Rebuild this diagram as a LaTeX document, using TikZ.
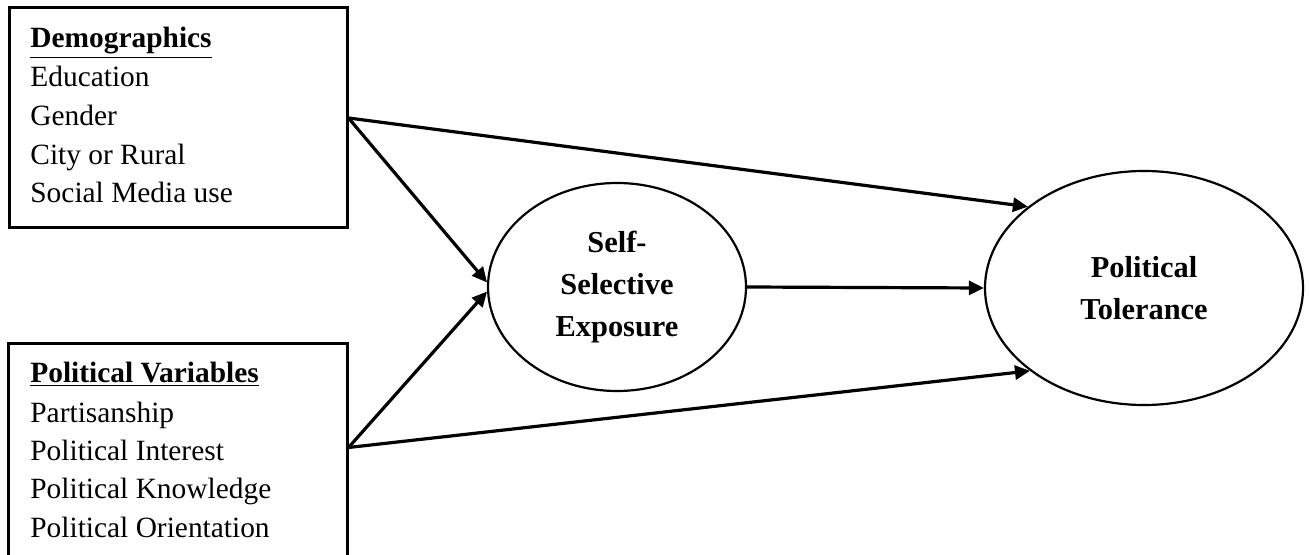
\documentclass[tikz,border=0pt]{standalone}
\usepackage{fontspec}
\setmainfont{Liberation Serif}
\usetikzlibrary{shapes.geometric,arrows.meta,calc}
\begin{document}
\begin{tikzpicture}[x=0.5pt,y=-0.5pt,
  boxstyle/.style={draw,line width=1.5pt,rectangle,inner sep=0pt},
  listtext/.style={anchor=base west,inner sep=0pt,font=\fontsize{14.7}{19.5}\selectfont},
  ellstyle/.style={draw,line width=1.1pt,ellipse,inner sep=0pt,align=center,font=\fontsize{15.2}{21}\selectfont\bfseries},
  conn/.style={line width=1.6pt,-{Triangle[length=7.5pt,width=7pt]}}]
\useasboundingbox (0,0) rectangle (1309,555);
\clip (0,0) rectangle (1309,555);
% boxes
\node[boxstyle,minimum width=169pt,minimum height=110pt] (b1) at (178,118) {};
\node[boxstyle,minimum width=169.5pt,minimum height=115pt] (b2) at (177.5,458) {};
\coordinate (b2out) at ($(b2.north east)+(0,106)$);
% list texts
\node[listtext] (d0) at (30,48) {\textbf{\underline{Demographics}}};
\node[listtext] (d1) at (30,87) {Education};
\node[listtext] (d2) at (30,126) {Gender};
\node[listtext] (d3) at (30,165) {City or Rural};
\node[listtext] (d4) at (30,203) {Social Media use};
\node[listtext] (p0) at (30,382) {\textbf{\underline{Political Variables}}};
\node[listtext] (p1) at (30,422) {Partisanship};
\node[listtext] (p2) at (30,460) {Political Interest};
\node[listtext] (p3) at (30,498) {Political Knowledge};
\node[listtext] (p4) at (30,537) {Political Orientation};
% ellipses
\node[ellstyle,minimum width=129pt,minimum height=104pt] (e1) at (617,287) {Self-\\Selective\\Exposure};
\node[ellstyle,minimum width=159pt,minimum height=117pt] (e2) at (1144,288) {Political\\Tolerance};
% connectors
\draw[conn] (b1.east) -- (e1.178);
\draw[conn] (b2out) -- (e1.182);
\draw[conn] (b1.east) -- (e2.145);
\draw[conn] (b2out) -- (e2.216);
\draw[conn] (e1.east) -- (e2.west);
\end{tikzpicture}
\end{document}
